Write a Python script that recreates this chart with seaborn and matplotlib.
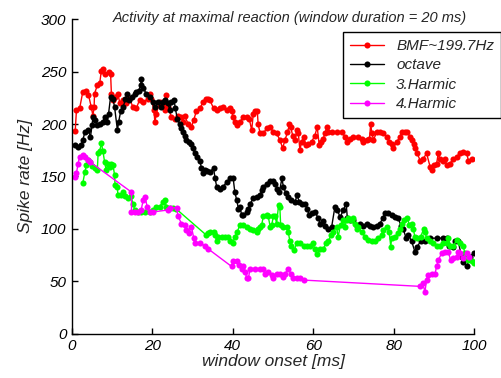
import matplotlib
matplotlib.use("Agg")
import matplotlib.pyplot as plt
import seaborn as sns

# series data (window onset in ms, spike rate in Hz)
bmf_t = [0.8, 1.1, 1.9, 2.7, 3.6, 4.1, 4.8, 5.2, 5.5, 5.6,
         6.3, 6.9, 7.3, 7.7, 8.3, 9.1, 9.6, 9.8, 10.2, 10.6,
         11.4, 11.9, 12.7, 13.5, 14.3, 15.2, 16.0, 16.8, 17.7, 18.9,
         19.3, 19.7, 20.4, 20.6, 21.0, 21.8, 22.6, 23.1, 23.5, 23.9,
         24.7, 25.5, 26.4, 27.2, 27.6, 28.0, 28.9, 29.7, 30.3, 30.9,
         31.8, 32.6, 33.4, 33.9, 34.3, 35.2, 36.0, 36.8, 37.6, 38.5,
         39.3, 39.7, 40.1, 40.5, 41.0, 41.8, 42.6, 43.5, 44.1, 44.7,
         45.1, 45.5, 46.1, 46.3, 46.8, 47.6, 48.4, 49.3, 50.1, 50.9,
         51.7, 52.4, 53.0, 53.6, 54.1, 54.4, 54.9, 55.5, 55.9, 56.3,
         56.7, 57.1, 57.6, 58.2, 58.8, 59.6, 60.4, 61.0, 61.5, 61.9,
         62.5, 62.9, 63.4, 63.8, 64.6, 65.8, 67.1, 67.9, 68.3, 69.2,
         70.0, 71.2, 72.1, 72.5, 73.3, 74.0, 74.3, 74.6, 75.0, 75.8,
         76.6, 77.4, 78.3, 78.9, 79.5, 79.9, 80.8, 81.6, 82.0, 82.8,
         83.4, 84.1, 84.5, 85.1, 85.3, 85.9, 86.6, 87.4, 88.2, 89.1,
         89.5, 90.0, 90.7, 91.1, 91.5, 92.4, 92.8, 93.2, 94.0, 94.8,
         95.7, 96.5, 97.3, 98.2, 98.6, 99.4]
bmf_rate = [193, 213, 215, 231, 232, 228, 216, 208, 216, 229,
            237, 239, 251, 253, 248, 250, 248, 229, 223, 226,
            229, 220, 223, 220, 224, 216, 215, 223, 221, 224,
            229, 224, 213, 202, 210, 221, 218, 213, 228, 216,
            207, 205, 208, 207, 202, 208, 200, 197, 204, 212,
            215, 221, 224, 224, 223, 215, 213, 215, 216, 213,
            215, 212, 207, 202, 199, 202, 207, 207, 205, 194,
            210, 212, 212, 200, 191, 191, 196, 197, 192, 191,
            185, 177, 185, 192, 200, 197, 189, 185, 194, 191,
            175, 183, 188, 180, 181, 183, 189, 197, 180, 183,
            186, 191, 197, 192, 192, 192, 192, 188, 183, 186,
            188, 188, 186, 183, 185, 186, 200, 191, 185, 192,
            192, 191, 188, 183, 181, 177, 183, 188, 192, 192,
            192, 188, 185, 181, 177, 172, 165, 167, 172, 159,
            156, 161, 162, 172, 167, 165, 167, 161, 162, 167,
            169, 172, 173, 172, 165, 167]

octave_t = [0.7, 1.5, 2.3, 2.7, 3.2, 4.0, 4.6, 5.0, 5.2, 5.6,
            6.3, 6.9, 7.7, 8.1, 8.8, 9.1, 9.6, 10.2, 10.6, 11.3,
            11.6, 12.1, 12.7, 13.3, 13.8, 14.3, 14.9, 15.6, 16.0, 16.6,
            17.1, 17.2, 17.7, 18.5, 19.3, 20.1, 20.7, 21.4, 22.1, 22.6,
            23.2, 23.9, 24.3, 24.7, 25.4, 25.7, 26.2, 26.8, 27.2, 27.6,
            28.0, 28.4, 29.0, 29.5, 30.1, 30.5, 31.2, 31.8, 32.2, 32.6,
            33.0, 33.7, 34.3, 35.2, 35.6, 36.0, 36.8, 37.6, 38.5, 39.3,
            40.1, 40.5, 41.0, 41.4, 41.8, 42.2, 42.6, 43.5, 43.9, 44.3,
            45.1, 45.9, 46.8, 47.2, 47.6, 48.4, 49.3, 49.9, 50.5, 51.1,
            51.6, 52.2, 52.6, 53.2, 53.8, 54.6, 55.5, 56.0, 56.5, 57.1,
            58.0, 58.5, 59.0, 59.6, 60.4, 61.3, 61.7, 62.4, 62.9, 63.8,
            64.6, 65.4, 66.0, 66.7, 67.5, 68.2, 68.5, 69.2, 70.0, 70.8,
            71.6, 72.5, 73.3, 74.1, 74.9, 75.8, 76.6, 77.3, 77.9, 78.7,
            79.5, 80.3, 81.2, 81.8, 82.4, 83.1, 83.7, 84.5, 85.3, 85.9,
            86.7, 87.8, 89.1, 90.7, 92.4, 93.4, 93.9, 94.9, 95.3, 96.1,
            96.9, 97.3, 98.2, 99.0, 99.9]
octave_rate = [180, 178, 180, 185, 192, 194, 188, 199, 207, 204,
               199, 200, 202, 207, 202, 210, 226, 224, 216, 194,
               202, 212, 216, 224, 229, 223, 226, 229, 231, 232,
               237, 243, 234, 229, 226, 221, 216, 221, 216, 221,
               223, 220, 213, 221, 223, 215, 205, 200, 196, 192,
               189, 185, 183, 181, 177, 172, 169, 165, 158, 153,
               156, 155, 154, 158, 148, 140, 138, 140, 145, 148,
               148, 135, 127, 119, 121, 113, 113, 116, 119, 124,
               129, 130, 132, 137, 140, 143, 146, 146, 143, 138,
               135, 148, 140, 134, 130, 127, 126, 132, 126, 124,
               124, 119, 113, 115, 116, 110, 105, 107, 103, 100,
               102, 121, 118, 111, 118, 124, 110, 108, 108, 103,
               105, 103, 105, 103, 102, 103, 105, 110, 115, 115,
               113, 111, 110, 103, 100, 91, 94, 88, 78, 83,
               88, 88, 91, 91, 91, 91, 84, 83, 88, 88,
               73, 68, 64, 73, 77]

harm3_t = [2.7, 3.2, 3.6, 4.0, 4.4, 5.0, 5.6, 6.3, 6.5, 6.9,
           7.3, 7.7, 8.1, 8.5, 9.0, 9.4, 9.8, 10.2, 10.6, 10.7,
           11.3, 11.4, 12.1, 12.7, 13.3, 13.9, 14.6, 15.2, 15.6, 16.4,
           17.2, 18.1, 19.3, 20.1, 21.0, 21.8, 22.6, 23.1, 23.5, 24.3,
           25.1, 25.9, 33.4, 33.9, 34.3, 35.2, 35.6, 36.0, 36.4, 37.2,
           38.1, 38.9, 39.3, 40.0, 40.5, 41.1, 41.8, 42.6, 43.5, 44.3,
           45.1, 45.9, 46.3, 46.8, 47.2, 47.6, 48.4, 48.8, 49.3, 49.7,
           50.1, 50.5, 50.9, 51.4, 51.7, 51.9, 52.6, 53.4, 53.8, 54.2,
           54.6, 55.3, 55.9, 56.7, 57.6, 58.4, 59.2, 59.9, 60.4, 61.0,
           61.7, 62.5, 63.2, 63.8, 64.4, 65.0, 65.8, 66.2, 66.8, 67.5,
           67.9, 68.3, 68.7, 69.3, 70.0, 70.4, 70.8, 71.2, 72.1, 72.9,
           73.7, 74.6, 75.4, 76.2, 77.0, 77.4, 78.3, 78.9, 79.3, 79.5,
           80.3, 81.2, 81.6, 82.0, 82.6, 83.4, 83.9, 84.5, 84.9, 85.3,
           85.9, 86.7, 87.5, 87.7, 88.3, 89.1, 89.9, 90.7, 91.5, 92.4,
           93.2, 93.6, 94.0, 94.9, 95.7, 96.5, 97.3, 97.7, 98.6, 99.4,
           100.0]
harm3_rate = [144, 154, 161, 166, 164, 160, 158, 156, 172, 174,
              182, 174, 164, 156, 162, 159, 162, 161, 151, 142,
              140, 132, 132, 135, 131, 129, 131, 124, 118, 116,
              116, 116, 116, 118, 121, 121, 126, 127, 121, 120,
              120, 119, 94, 96, 97, 97, 94, 88, 92, 92,
              92, 92, 88, 86, 92, 97, 104, 104, 102, 100,
              99, 97, 100, 102, 104, 112, 113, 112, 102, 104,
              112, 112, 105, 123, 121, 104, 102, 102, 97, 88,
              84, 80, 86, 86, 84, 84, 84, 86, 81, 76,
              81, 81, 86, 88, 94, 97, 102, 92, 104, 108,
              102, 108, 110, 108, 110, 105, 100, 102, 97, 92,
              89, 88, 88, 91, 94, 99, 102, 97, 83, 91,
              92, 96, 100, 105, 108, 110, 104, 105, 100, 92,
              91, 92, 100, 97, 91, 88, 86, 84, 84, 86,
              86, 91, 84, 84, 89, 86, 84, 77, 70, 69,
              67]

harm4_t = [0.7, 1.1, 1.5, 1.9, 2.7, 3.3, 4.0, 4.4, 14.8, 14.8,
           15.6, 16.4, 17.2, 17.7, 18.2, 18.7, 19.3, 20.1, 24.0, 24.4,
           26.0, 26.4, 27.2, 28.0, 28.4, 29.0, 29.7, 30.3, 30.7, 31.8,
           33.0, 33.8, 39.7, 40.1, 41.0, 41.6, 42.2, 42.6, 43.0, 43.5,
           43.9, 44.3, 45.5, 46.8, 47.6, 48.0, 48.8, 49.7, 50.1, 50.9,
           51.7, 52.6, 53.0, 53.8, 54.4, 55.0, 55.9, 56.7, 57.6, 86.6,
           87.2, 87.8, 88.2, 88.6, 89.5, 90.3, 90.7, 91.1, 92.0, 92.8,
           93.6, 94.2, 94.9, 95.7, 96.1, 96.5, 97.3, 98.2, 98.8]
harm4_rate = [149, 153, 162, 169, 170, 169, 166, 164, 135, 116,
              116, 116, 118, 127, 130, 121, 116, 116, 118, 120,
              120, 112, 105, 104, 99, 96, 102, 91, 86, 86,
              84, 81, 64, 69, 69, 65, 62, 64, 59, 53,
              53, 62, 62, 62, 62, 57, 59, 56, 53, 57,
              57, 54, 57, 62, 57, 53, 53, 53, 51, 45,
              48, 40, 51, 56, 57, 57, 64, 70, 77, 78,
              78, 70, 72, 73, 78, 77, 72, 77, 73]

labels = ["BMF~199.7Hz", "octave", "3.Harmic", "4.Harmic"]
colors = ["#ff0000", "#000000", "#00ff00", "#ff00ff"]
x_ticks = [0, 20, 40, 60, 80, 100]
y_ticks = [0, 50, 100, 150, 200, 250, 300]

sns.set_style("ticks")
plt.rcParams['font.family'] = ['Liberation Sans', 'DejaVu Sans']
plt.rcParams['font.style'] = 'italic'
plt.rcParams['axes.edgecolor'] = 'black'
plt.rcParams['xtick.color'] = 'black'
plt.rcParams['ytick.color'] = 'black'

fig = plt.figure(figsize=(5.02, 3.78), dpi=100)
ax = fig.add_axes([72 / 502, 1 - 333.5 / 378, 402 / 502, 314.2 / 378])

series = [(bmf_t, bmf_rate), (octave_t, octave_rate), (harm3_t, harm3_rate), (harm4_t, harm4_rate)]
for (t, r), lab, col in zip(series, labels, colors):
    sns.lineplot(x=t, y=r, ax=ax, color=col, lw=1, marker='o', markersize=4.4,
                 markeredgewidth=0, label=lab, sort=False, estimator=None)

ax.set_xlim(0, 100)
ax.set_ylim(0, 300)
ax.set_xticks(x_ticks)
ax.set_yticks(y_ticks)
sns.despine(ax=ax)
for sp in ax.spines.values():
    sp.set_linewidth(1)
ax.tick_params(direction='in', length=4, width=1, labelsize=11, pad=4)
ax.set_xlabel("window onset [ms]", fontsize=12.5, labelpad=1)
ax.set_ylabel("Spike rate [Hz]", fontsize=12.5, labelpad=6)

fig.text(290 / 502, 1 - 18 / 378, "Activity at maximal reaction (window duration = 20 ms)",
         ha='center', va='center', fontsize=10.5)

leg = ax.legend(loc='upper right', bbox_to_anchor=(501 / 502, 1 - 32 / 378),
                bbox_transform=fig.transFigure, borderaxespad=0, fancybox=False,
                framealpha=1, edgecolor='black', fontsize=11, handlelength=2.2,
                borderpad=0.45, labelspacing=0.35, handletextpad=0.8)
leg.get_frame().set_linewidth(1)

fig.savefig("out.png", dpi=100)
